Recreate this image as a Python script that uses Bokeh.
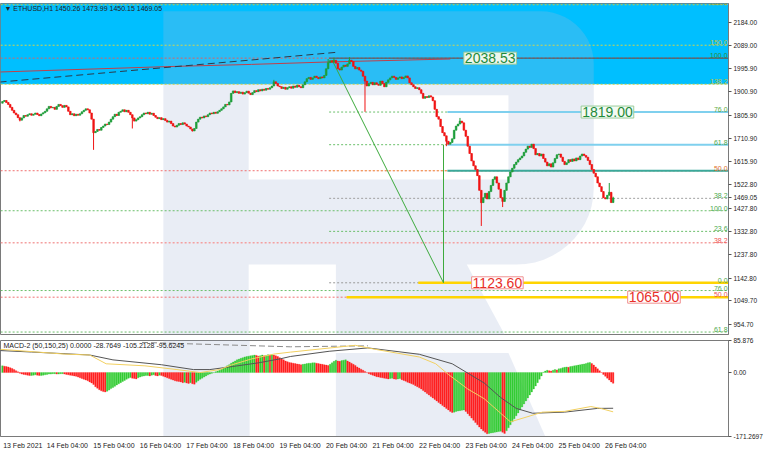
import numpy as np
from bokeh.plotting import figure
from bokeh.layouts import column
from bokeh.models import Range1d, FixedTicker, PrintfTickFormatter, BoxAnnotation, Label, ColumnDataSource
from bokeh.core.properties import value
from bokeh.embed import file_html
from bokeh.resources import INLINE

# ---------------- data ----------------
symbol_header = "\u25bc ETHUSD,H1  1450.26 1473.99 1450.15 1469.05"
macd_header = "MACD-2 (50,150,25) 0.0000 -28.7649 -105.2128 -95.6245"

first_open = 1855
closes = [
    1862, 1866, 1858, 1850, 1838, 1826, 1815, 1808, 1796, 1786, 1795, 1805, 1802, 1808, 1812, 1806, 1810, 1815, 1809, 1804, 1811, 1816, 1822,
    1832, 1842, 1836, 1838, 1830, 1842, 1850, 1845, 1838, 1846, 1840, 1822, 1808, 1812, 1804, 1810, 1806, 1812, 1820, 1826, 1832, 1828, 1815, 1790,
    1735, 1740, 1748, 1745, 1756, 1762, 1770, 1768, 1778, 1790, 1800, 1810, 1805, 1818, 1822, 1828, 1820, 1826, 1818, 1808, 1795, 1782, 1788, 1795,
    1800, 1808, 1815, 1812, 1818, 1810, 1814, 1805, 1798, 1792, 1796, 1788, 1792, 1785, 1778, 1782, 1772, 1762, 1758, 1765, 1772, 1768, 1775, 1770,
    1762, 1758, 1750, 1742, 1752, 1778, 1790, 1798, 1795, 1803, 1800, 1808, 1815, 1812, 1818, 1814, 1820, 1826, 1832, 1840, 1850, 1848, 1860, 1895,
    1905, 1898, 1902, 1895, 1900, 1892, 1898, 1904, 1896, 1890, 1898, 1906, 1902, 1910, 1905, 1912, 1908, 1915, 1912, 1918, 1925, 1942, 1935, 1925,
    1922, 1915, 1920, 1912, 1918, 1922, 1916, 1925, 1920, 1928, 1922, 1918, 1930, 1942, 1955, 1960, 1952, 1958, 1965, 1960, 1955, 1962, 1958, 1968,
    1995, 2020, 2028, 2022, 2030, 2018, 1995, 1990, 2002, 2010, 2005, 2015, 2030, 2025, 2005, 1995, 2000, 1990, 1985, 1965, 1945, 1925, 1935, 1940,
    1930, 1938, 1932, 1928, 1945, 1935, 1922, 1940, 1950, 1958, 1965, 1960, 1952, 1958, 1962, 1955, 1960, 1966, 1958, 1938, 1930, 1922, 1915, 1918,
    1910, 1895, 1875, 1882, 1878, 1885, 1880, 1865, 1830, 1800, 1790, 1760, 1735, 1722, 1700, 1688, 1695, 1710, 1745, 1762, 1770, 1782, 1775, 1745,
    1720, 1680, 1650, 1620, 1600, 1585, 1560, 1500, 1450, 1470, 1488, 1465, 1495, 1520, 1545, 1555, 1530, 1505, 1470, 1455, 1500, 1530, 1555, 1575,
    1590, 1605, 1615, 1625, 1632, 1640, 1655, 1668, 1680, 1675, 1688, 1670, 1645, 1650, 1640, 1648, 1630, 1615, 1600, 1608, 1595, 1612, 1630, 1645,
    1648, 1635, 1618, 1605, 1612, 1625, 1618, 1628, 1620, 1632, 1625, 1640, 1648, 1642, 1635, 1622, 1605, 1585, 1570, 1555, 1530, 1515, 1495, 1470,
    1465, 1480, 1492, 1450.26, 1469.05,
]
wick_high = {140: 1950, 168: 2035, 171: 2040, 179: 2042, 236: 1795, 313: 1530, 315: 1473.99}
wick_low = {9: 1781, 47: 1665, 67: 1752, 98: 1740, 187: 1820, 229: 1680, 247: 1355, 258: 1432, 315: 1450.15}

hist = (
    [18, 17, 16, 15, 13, 11] + [8, 5, 2] +
    [-2, -4, -5, -6, -7, -8, -8, -7, -6, -7, -8, -8, -7, -6] +
    [-5, -4, -4, -3, -3, -4, -4, -3, -3, -4, -5] +
    [-6, -7, -8, -9, -10, -12, -14, -16, -18, -20, -22, -25, -28, -32, -38] +
    [-42, -46, -49, -51, -52, -50, -47] +
    [-43, -40, -37, -33, -30, -27, -24, -21, -18, -15, -13] +
    [-15, -16, -17] +
    [-14, -12, -10, -9, -8, -8, -9, -7, -6, -8, -9, -7, -8] +
    [-10, -12, -14, -16, -18, -20, -22, -23, -24, -25] +
    [-27, -26, -28, -29, -27, -30, -31] +
    [-26, -22, -18, -15, -12, -9, -6, -4, -2, 0, 2, 4] +
    [6, 9, 12, 15, 18, 21, 25, 28, 31, 34, 36] +
    [38, 40, 42, 43, 44, 45, 46, 47] +
    [46, 44, 45, 47, 45, 46, 48, 47, 48] +
    [47, 45, 43, 40, 37, 34, 31, 29, 27] +
    [26, 25, 24, 23, 22, 21] +
    [22, 23, 24, 25, 25, 26, 26] +
    [25, 24, 23, 22, 21, 20, 19] +
    [22, 26, 30, 33, 31, 30, 32, 33, 34] +
    [31, 28, 25, 22, 19, 15, 12, 9, 6, 3, 0] +
    [-3, -5, -7, -9, -11, -12, -13, -14, -15, -16] +
    [-17, -16, -15, -17, -18, -17, -16, -19, -21, -23] +
    [-26, -28, -30, -32, -35, -38, -41, -44, -48, -52, -56, -60, -64, -68, -72, -76, -80, -84, -88, -92, -96, -100, -104, -107] +
    [-106, -104, -103, -102, -101, -100] +
    [-104, -110, -116, -122, -128, -134, -140, -146, -151, -156, -160, -164] +
    [-163, -162, -161, -160, -159, -158, -157] +
    [-160, -163] +
    [-156, -148, -140, -132, -124, -116, -108, -100, -92, -84, -76, -68, -60, -52, -44, -36, -27, -18, -9] +
    [1, 4, 6, 5, 4, 6, 8, 7] +
    [10, 11, 13, 14, 15, 14, 16, 17, 18, 19, 20, 21, 22, 23, 24, 26, 27] +
    [24, 20, 15, 10, 5, 0] +
    [-5, -10, -15, -20, -25, -28.76]
)

signal_x = [-1.5, 15, 45, 57, 82, 98.5, 107, 118.5, 132, 143.5, 148.5, 168.5, 188.5, 215, 232, 248.5, 257, 265, 273.5, 290, 307, 315]
signal_v = [59, 55, 47, 34, 21, 8, 8, 16, 26, 37, 43, 57, 66, 49, 23.5, -28, -67, -96, -109, -106, -96, -95.62]
macd_x = [-1.5, 32, 45, 53.5, 73.5, 90, 102, 112, 118.5, 128.5, 140, 148.5, 182, 192, 215, 223.5, 230, 240, 248.5, 257, 262, 268.5, 278.5, 290, 303.5, 308.5, 315]
macd_v = [62.5, 49.5, 47, 23.5, 18, 8, 0, 8, 21, 36.5, 49.5, 54.7, 73, 62.5, 41.7, 23.5, -5, -44, -70, -109, -132, -122, -106, -104, -91, -96, -105.21]
slow_x = [72, 148.5, 188.5]
slow_v = [80.7, 69, 71.6]

ma_x = [-1.5, 85, 128.5, 168.5, 231]
ma_v = [1982, 2004, 2013, 2023, 2035]
trend_x = [-1.5, 128.5, 172]
trend_v = [1941, 2031, 2062]

price_ticks = [2184.00, 2089.00, 1995.90, 1900.90, 1805.90, 1710.90, 1615.90, 1522.80, 1469.05, 1427.80, 1332.80,
               1237.80, 1142.80, 1049.70, 954.70]
macd_ticks = [85.876, 0.0, -171.2697]
date_idx = [0, 23, 47, 71, 95, 119, 143, 167, 191, 215, 239, 263, 287, 311]
date_labels = ["13 Feb 2021", "14 Feb 04:00", "15 Feb 04:00", "16 Feb 04:00", "17 Feb 04:00", "18 Feb 04:00",
               "19 Feb 04:00", "20 Feb 04:00", "21 Feb 04:00", "22 Feb 04:00", "23 Feb 04:00", "24 Feb 04:00",
               "25 Feb 04:00", "26 Feb 04:00"]

fib_prices = [2256, 2091, 2038.53, 1932, 1819, 1686, 1580, 1467.5, 1417, 1333, 1287, 1123.6, 1092, 1065, 923]
fib_texts = ["161.8", "150.0", "100.0", "138.2", "76.0", "61.8", "50.0", "38.2", "100.0", "23.6", "38.2", "0.0", "76.0", "50.0", "61.8"]
fib_colors = ["#A8A832", "#C4C23A", "#2E8B3A", "#C4C23A", "#5DAA3C", "#4CA84C", "#E0702A", "#4CA84C", "#4CA84C",
              "#4CA84C", "#F05050", "#4CA84C", "#4CA84C", "#F05050", "#4CA84C"]

# ---------------- geometry helpers (reference pixels -> data) ----------------
def px_i(x):
    return (x - 3) / 2.0

def py_p(y):
    return 2184.0 - (y - 23.7) * 3.894

def py_m(y):
    return 85.876 - (y - 353) * 2.6

XR = (-1, 374.5)
W = 766
RB = 38
FONT = "Liberation Sans"
LABEL_SHIFT = 10.5  # date labels are drawn left-aligned at their bar, as in the reference

# ---------------- main panel ----------------
p = figure(width=W, height=335, x_range=Range1d(*XR), y_range=Range1d(913, 2261),
           output_backend="svg", toolbar_location=None, y_axis_location="right",
           min_border_left=0, min_border_right=RB, min_border_top=3, min_border_bottom=1)
p.xaxis.visible = False
p.grid.visible = False
p.outline_line_color = "#7a7a7a"
p.background_fill_color = "white"

p.add_layout(BoxAnnotation(bottom=1932, fill_color="#00BFFF", fill_alpha=1.0, line_color=None, level="underlay"))

# watermark "R"
def arc(cx, cy, r, a0, a1, n=14):
    t = np.linspace(np.radians(a0), np.radians(a1), n)
    return list(cx + r * np.cos(t)), list(cy + r * np.sin(t))

ax1, ay1 = arc(558, 67, 55, -90, 0)
ax2, ay2 = arc(533, 197, 80, 0, 90)
ox = [169] + ax1 + ax2 + [482, 522, 347, 347, 257, 257, 169]
oy = [12] + ay1 + ay2 + [277, 352, 352, 277, 277, 352, 352]
hx = [257, 525, 525, 257]
hy = [100, 100, 188, 188]
WM = "#A9B9D6"
p.multi_polygons(xs=[[[[px_i(v) for v in ox], [px_i(v) for v in hx]]]],
                 ys=[[[[py_p(v) for v in oy], [py_p(v) for v in hy]]]],
                 fill_color=WM, fill_alpha=0.25, line_color=None)

# full-width dotted levels
full = [(2256, "#C8C83C", 1), (2091, "#D4D44A", 1), (2038.53, "#E06060", 1), (1932, "#D4D44A", 1),
        (1580, "#F07070", 1), (1417, "#6BBF6B", 1), (1287, "#F4A0A0", 1.5), (1092, "#6BBF6B", 1),
        (1065, "#F07070", 1), (923, "#6BBF6B", 1)]
for y, c, w in full:
    p.segment(x0=XR[0] - 2, y0=y, x1=XR[1] + 2, y1=y, line_color=c, line_width=w, line_dash="2 2")

part = [(1819, "#6BBF6B", 229.5), (1686, "#6BBF6B", 229.5), (1580, "#F0A050", XR[1] + 2),
        (1467.5, "#A0A0A0", XR[1] + 2), (1333, "#6BBF6B", XR[1] + 2), (1123.6, "#9A9A9A", XR[1] + 2)]
for y, c, x1 in part:
    p.segment(x0=168.5, y0=y, x1=x1, y1=y, line_color=c, line_width=1, line_dash="2 2")

solid = [(2038.53, "#505050", 168.5, 1), (1819, "#7FD0EE", 229.5, 2), (1686, "#7FD0EE", 229.5, 2),
         (1580, "#3AA89A", 229.5, 2), (1123.6, "#FFD400", 214.5, 2.5), (1065, "#FFD400", 177.5, 2.5)]
for y, c, x0, w in solid:
    p.segment(x0=x0, y0=y, x1=XR[1] + 2, y1=y, line_color=c, line_width=w)

# MA and trend lines
p.line(ma_x, ma_v, line_color="#C0404A", line_width=1)
p.line(trend_x, trend_v, line_color="#2B3A4A", line_width=1, line_dash="7 4")
p.line([170, 227.5, 227.5], [2030.9, 1123.6, 1686], line_color="#3DAA3D", line_width=1)

# candles
n = len(closes)
idx = list(range(n))
opens = [first_open] + closes[:-1]
highs = [wick_high.get(i, max(o, c)) for i, (o, c) in enumerate(zip(opens, closes))]
lows = [wick_low.get(i, min(o, c)) for i, (o, c) in enumerate(zip(opens, closes))]
colors = ["#1E9E3A" if c >= o else "#F01414" for o, c in zip(opens, closes)]
src = ColumnDataSource(dict(x=idx, o=opens, c=closes, h=highs, l=lows,
                            top=[max(o, c) for o, c in zip(opens, closes)],
                            bot=[min(o, c) for o, c in zip(opens, closes)], col=colors))
p.segment(x0="x", y0="l", x1="x", y1="h", line_color="col", line_width=1, source=src)
p.vbar(x="x", top="top", bottom="bot", width=0.85, fill_color="col", line_color="col", line_width=0.6, source=src)

# fib labels at right edge
p.text(x=[XR[1] - 0.5] * len(fib_prices), y=fib_prices, text=fib_texts, text_color=fib_colors,
       text_font=value(FONT), text_font_size="7px", text_align="right", text_baseline="bottom")

# boxed price labels
for txt, x0, y, tc, bg, bc in [("2038.53", px_i(479), 2038.53, "#1E8B3A", "#EEF7EE", "#9ACD9A"),
                               ("1819.00", px_i(600), 1819.0, "#1E8B3A", "#F3FAF3", "#9ACD9A"),
                               ("1123.60", px_i(487), 1123.6, "#E8302A", "#FFFFFF", "#F09090"),
                               ("1065.00", px_i(648), 1065.0, "#E8302A", "#FFFFFF", "#F09090")]:
    p.add_layout(Label(x=x0, y=y, text=txt, text_color=tc, text_font=FONT, text_font_size="14px",
                       text_align="left", text_baseline="middle", background_fill_color=bg,
                       border_line_color=bc, padding=1))

p.add_layout(Label(x=XR[0], y=2261, text=symbol_header, text_font=FONT, text_font_size="7px",
                   text_color="#222222", text_baseline="top", x_offset=4, y_offset=-1))

p.yaxis.ticker = FixedTicker(ticks=price_ticks)
p.yaxis.formatter = PrintfTickFormatter(format="%.2f")
for ax in [p.yaxis]:
    ax.major_label_text_font_size = "6.5px"
    ax.major_label_text_font = FONT
    ax.major_label_text_color = "#222222"
    ax.minor_tick_line_color = None
    ax.major_tick_in = 0
    ax.major_tick_out = 3
    ax.major_label_standoff = 2
    ax.axis_line_color = "#7a7a7a"
    ax.major_tick_line_color = "#555555"

# ---------------- MACD panel ----------------
q = figure(width=W, height=116, x_range=p.x_range, y_range=Range1d(-171.2697, 85.876),
           output_backend="svg", toolbar_location=None, y_axis_location="right",
           min_border_left=0, min_border_right=RB, min_border_top=5, min_border_bottom=14)
q.grid.visible = False
q.outline_line_color = "#7a7a7a"

q.patch([px_i(v) for v in [169, 258, 258, 169]], [py_m(v) for v in [340, 340, 470, 470]],
        fill_color=WM, fill_alpha=0.25, line_color=None)
q.patch([px_i(v) for v in [347, 525, 571, 347]], [py_m(v) for v in [366, 366, 470, 470]],
        fill_color=WM, fill_alpha=0.25, line_color=None)

hcol = ["#33CC33" if (i == 0 or hist[i] >= hist[i - 1]) else "#FF2020" for i in range(len(hist))]
q.vbar(x=list(range(len(hist))), top=hist, bottom=0, width=0.8, fill_color=hcol, line_color=hcol, line_width=0.3)
q.line(slow_x, slow_v, line_color="#8A8A8A", line_width=1, line_dash="6 3")
q.line(signal_x, signal_v, line_color="#555555", line_width=1)
q.line(macd_x, macd_v, line_color="#F2D060", line_width=1)
q.add_layout(Label(x=XR[0], y=85.876, text=macd_header, text_font=FONT, text_font_size="7px",
                   text_color="#222222", text_baseline="top", x_offset=3, y_offset=-1))

q.yaxis.ticker = FixedTicker(ticks=macd_ticks)
q.yaxis.major_label_overrides = {85.876: "85.876", 0.0: "0.00", -171.2697: "-171.2697"}
date_pos = [d + LABEL_SHIFT for d in date_idx]
q.xaxis.ticker = FixedTicker(ticks=date_pos)
q.xaxis.major_label_overrides = {k: v for k, v in zip(date_pos, date_labels)}
for ax in [q.yaxis, q.xaxis]:
    ax.major_label_text_font = FONT
    ax.major_label_text_color = "#222222"
    ax.minor_tick_line_color = None
    ax.major_tick_in = 0
    ax.major_tick_out = 3
    ax.major_label_standoff = 2
    ax.axis_line_color = "#7a7a7a"
    ax.major_tick_line_color = "#555555"
q.xaxis.major_tick_line_color = None
q.yaxis.major_label_text_font_size = "6.5px"
q.xaxis.major_label_text_font_size = "7px"

layout = column(p, q, spacing=0)
open("out.html", "w").write(file_html(layout, INLINE))
